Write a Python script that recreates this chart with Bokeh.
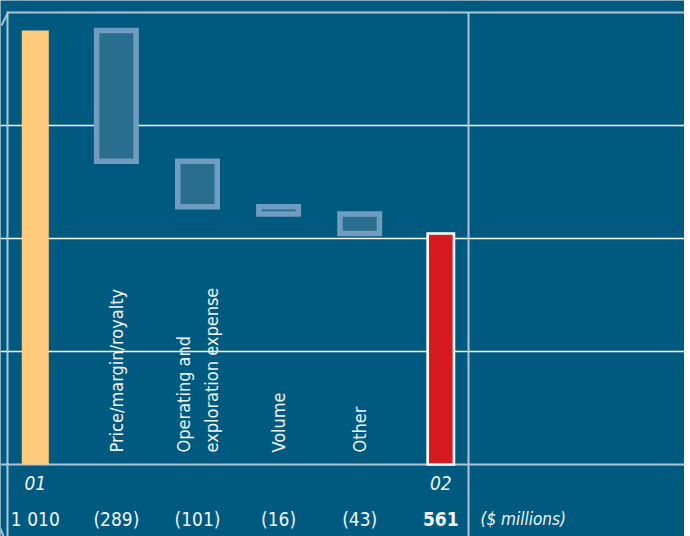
import math
from bokeh.plotting import figure
from bokeh.models import Range1d, ColumnDataSource, Grid, FixedTicker
from bokeh.core.properties import value
from bokeh.embed import file_html
from bokeh.resources import INLINE

# ---------------- data ----------------
start_label = "01"
end_label = "02"
start_value = 1010
end_value = 561
driver_names = ["Price/margin/royalty", "Operating and\nexploration expense", "Volume", "Other"]
driver_changes = [-289, -101, -16, -43]
value_texts = ["1 010", "(289)", "(101)", "(16)", "(43)", "561"]
unit_text = "($ millions)"
grid_values = [300, 550, 800]
axis_base = 50
axis_top = 1050

# ---------------- geometry / style ----------------
W, H = 684, 536
X0_PX, DX_PX = 34.8, 81.1
BASE_PX, TOP_PX = 464, 12
scale = (BASE_PX - TOP_PX) / (axis_top - axis_base)

def px_x(px):
    return (px - X0_PX) / DX_PX

def px_y(py):
    return axis_base + (BASE_PX - py) / scale

def wx(px):
    return px / DX_PX

BG = "#005a80"
LINE_LIGHT = "#a9c7d8"
TXT = "#eef4f8"
FONT = "DejaVu Sans Condensed, Liberation Sans Narrow, Roboto, sans-serif"

p = figure(width=W, height=H, output_backend="svg", toolbar_location=None,
           x_range=Range1d(px_x(0), px_x(W)), y_range=Range1d(px_y(H), px_y(0)),
           x_axis_location=None, y_axis_location=None, min_border=0,
           background_fill_color=BG, border_fill_color=BG, outline_line_color=None)
p.xgrid.visible = False
p.ygrid.visible = False
p.add_layout(Grid(dimension=1, ticker=FixedTicker(ticks=grid_values),
                  grid_line_color="white", grid_line_width=1.5))

# frame lines
segs = dict(
    x0=[px_x(7), px_x(0), px_x(7), px_x(468), px_x(7), px_x(0)],
    y0=[axis_top, axis_base, px_y(11), axis_top, px_y(13), px_y(528)],
    x1=[px_x(W), px_x(W), px_x(7), px_x(468), px_x(1), px_x(3)],
    y1=[axis_top, axis_base, px_y(H), px_y(H), px_y(25), px_y(H)],
)
p.segment(x0="x0", y0="y0", x1="x1", y1="y1", source=ColumnDataSource(segs),
          line_color=LINE_LIGHT, line_width=2)

# waterfall computation
n_drivers = len(driver_changes)
xs_driver = list(range(1, n_drivers + 1))
tops, bottoms = [], []
level = start_value
for c in driver_changes:
    new = level + c
    tops.append(max(level, new))
    bottoms.append(min(level, new))
    level = new

# start bar
p.vbar(x=[0], top=[start_value], bottom=axis_base, width=wx(27),
       fill_color="#fdcb7b", line_color=None)
# floating boxes
p.vbar(x=xs_driver, top=tops, bottom=bottoms, width=wx(39.5),
       fill_color="#296d8f", line_color="#6f9cc0", line_width=5.5, line_join="miter")
# end bar
p.vbar(x=[n_drivers + 1], top=[end_value], bottom=axis_base, width=wx(26.3),
       fill_color="#d71920", line_color="white", line_width=2.6, line_join="miter")

# rotated driver labels
p.text(x=xs_driver, y=[px_y(452)] * n_drivers, text=driver_names, angle=math.pi / 2,
       text_align="left", text_baseline="middle", text_color=TXT,
       text_font=value(FONT), text_font_size="18px", text_line_height=1.3)

# period labels
p.text(x=[0, n_drivers + 1], y=[px_y(482)] * 2, text=[start_label, end_label],
       text_align="center", text_baseline="middle", text_color=TXT,
       text_font=value(FONT), text_font_style="italic", text_font_size="19px")

# value labels
all_x = list(range(n_drivers + 2))
p.text(x=all_x[:-1], y=[px_y(518)] * (len(all_x) - 1), text=value_texts[:-1],
       text_align="center", text_baseline="middle", text_color=TXT,
       text_font=value(FONT), text_font_size="19px")
p.text(x=[all_x[-1]], y=[px_y(518)], text=[value_texts[-1]],
       text_align="center", text_baseline="middle", text_color=TXT,
       text_font=value(FONT), text_font_style="bold", text_font_size="19px")
p.text(x=[px_x(480)], y=[px_y(518)], text=[unit_text],
       text_align="left", text_baseline="middle", text_color=TXT,
       text_font=value(FONT), text_font_style="italic", text_font_size="17px")

open("out.html", "w").write(file_html(p, INLINE))
